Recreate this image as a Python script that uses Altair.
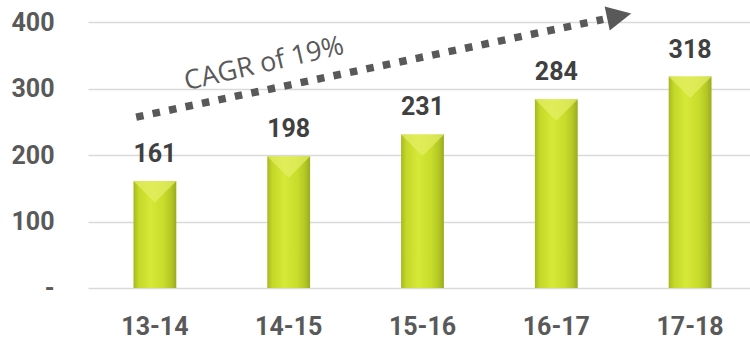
import altair as alt
import pandas as pd

# ---- data ----
periods = ["13-14", "14-15", "15-16", "16-17", "17-18"]
values = [161, 198, 231, 284, 318]
y_ticks = [0, 100, 200, 300, 400]

# CAGR annotation (x in category-index units, y in value units)
cagr_label = "CAGR of 19%"
arrow_x = [0.36, 3.85]
arrow_y = [257, 404]
head_x = [3.97]
head_y = [409]
label_x = [1.33]
label_y = [325]

df = pd.DataFrame({"period": periods, "value": values})
arrow_df = pd.DataFrame({"ax": arrow_x, "ay": arrow_y})
head_df = pd.DataFrame({"ax": head_x, "ay": head_y})
label_df = pd.DataFrame({"ax": label_x, "ay": label_y, "t": [cagr_label]})

FONT = "Roboto"
GRAY = "#595959"

xband = alt.X(
    "period:N",
    sort=periods,
    title=None,
    scale=alt.Scale(range=[0, 669], paddingInner=0.68, paddingOuter=0.34),
    axis=alt.Axis(
        labelFont=FONT, labelFontSize=25, labelFontWeight="bold", labelColor=GRAY,
        labelPadding=26, ticks=False, domain=False, grid=False, labelAngle=0,
    ),
)
yscale = alt.Scale(domain=[0, 400], nice=False)

base = alt.Chart(df)

bars = base.mark_bar(
    color=alt.Gradient(
        gradient="linear",
        x1=0, x2=1, y1=0, y2=0,
        stops=[
            alt.GradientStop(color="#a6b81f", offset=0),
            alt.GradientStop(color="#c4d829", offset=0.12),
            alt.GradientStop(color="#d6e838", offset=0.4),
            alt.GradientStop(color="#c8dc2c", offset=0.7),
            alt.GradientStop(color="#b4c725", offset=0.88),
            alt.GradientStop(color="#9aab1d", offset=1),
        ],
    )
).encode(
    x=xband,
    y=alt.Y(
        "value:Q",
        scale=yscale,
        title=None,
        axis=alt.Axis(
            values=y_ticks,
            labelExpr="datum.value == 0 ? '-' : datum.label",
            labelFont=FONT, labelFontSize=25, labelFontWeight="bold", labelColor=GRAY,
            labelPadding=34, ticks=False, domain=False,
            gridColor="#d9d9d9", gridWidth=1.6,
        ),
    ),
)

bevel = base.mark_point(
    shape="M-1,0L1,0L0,1Z", size=1849, filled=True, color="#e6f066", opacity=0.7, strokeWidth=0
).encode(x=xband, y=alt.Y("value:Q", scale=yscale))

labels = base.mark_text(
    font=FONT, fontSize=25, fontWeight="bold", color="#404040", baseline="alphabetic", dy=-19
).encode(x=xband, y=alt.Y("value:Q", scale=yscale), text="value:Q")

ax_scale = alt.Scale(domain=[0, 5], range=[0, 669], nice=False, zero=False)

arrow = alt.Chart(arrow_df).mark_line(
    color=GRAY, strokeWidth=7.5, strokeDash=[7.5, 9.3], strokeCap="butt"
).encode(
    x=alt.X("ax:Q", scale=ax_scale, axis=None),
    y=alt.Y("ay:Q", scale=yscale),
)

head = alt.Chart(head_df).mark_point(
    shape="M-1,-1L1,0L-1,1Z", size=600, filled=True, color=GRAY, angle=348, strokeWidth=0, opacity=1
).encode(
    x=alt.X("ax:Q", scale=ax_scale, axis=None),
    y=alt.Y("ay:Q", scale=yscale),
)

cagr = alt.Chart(label_df).mark_text(
    font="Open Sans", fontSize=27, color=GRAY, angle=347, align="center", baseline="alphabetic"
).encode(
    x=alt.X("ax:Q", scale=ax_scale, axis=None),
    y=alt.Y("ay:Q", scale=yscale),
    text="t:N",
)

bar_layer = alt.layer(bars, bevel, labels)
annot_layer = alt.layer(arrow, head, cagr)

chart = (
    alt.layer(bar_layer, annot_layer)
    .resolve_scale(x="independent")
    .properties(
        width=662,
        height=266,
        autosize=alt.AutoSizeParams(type="none"),
        padding={"left": 88, "top": 22, "right": 0, "bottom": 54},
        background="white",
    )
    .configure_view(stroke=None)
)

chart.save("out.html", embed_options={"renderer": "svg", "actions": False})
